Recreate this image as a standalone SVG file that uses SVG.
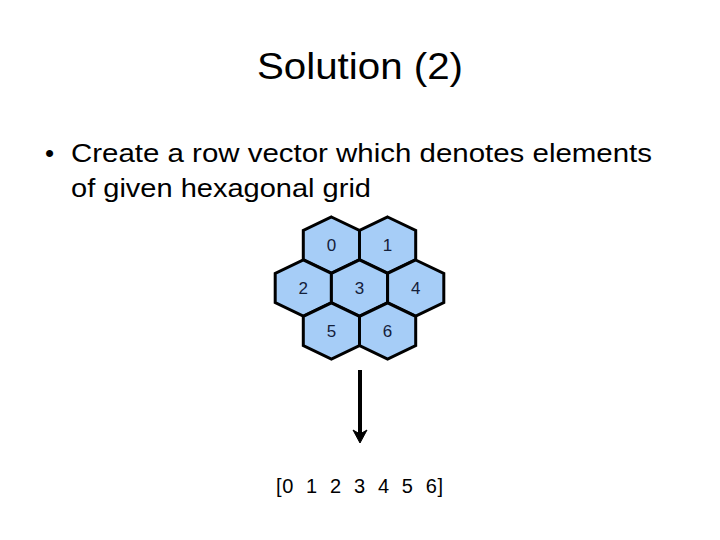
<svg xmlns="http://www.w3.org/2000/svg" width="720" height="540" viewBox="0 0 720 540">
  <style>
    .txt { font-family: "Liberation Sans", Arial, sans-serif; fill: #000; }
    .hex { fill: #a6cdf7; stroke: #000; stroke-width: 3; stroke-linejoin: miter; }
    .lbl { font-family: "Liberation Sans", Arial, sans-serif; font-size: 17px; fill: #14203a; text-anchor: middle; }
  </style>
  <defs>
    <polygon id="hexshape" points="0,-28 28.1,-14.5 28.1,14.5 0,28 -28.1,14.5 -28.1,-14.5"/>
  </defs>
  <rect width="720" height="540" fill="#fff"/>

  <g id="title">
    <text class="txt" x="257" y="79" font-size="37" textLength="206" lengthAdjust="spacingAndGlyphs">Solution (2)</text>
  </g>

  <g id="bullet">
    <text class="txt" x="45" y="162" font-size="26">•</text>
    <text class="txt" x="71" y="162" font-size="26" textLength="581" lengthAdjust="spacingAndGlyphs">Create a row vector which denotes elements</text>
    <text class="txt" x="71" y="197" font-size="26" textLength="300" lengthAdjust="spacingAndGlyphs">of given hexagonal grid</text>
  </g>

  <g id="hex0"><use href="#hexshape" class="hex" x="331.4" y="245"/><text class="lbl" x="331.4" y="251">0</text></g>
  <g id="hex1"><use href="#hexshape" class="hex" x="387.6" y="245"/><text class="lbl" x="387.6" y="251">1</text></g>
  <g id="hex2"><use href="#hexshape" class="hex" x="303.3" y="288"/><text class="lbl" x="303.3" y="294">2</text></g>
  <g id="hex3"><use href="#hexshape" class="hex" x="359.5" y="288"/><text class="lbl" x="359.5" y="294">3</text></g>
  <g id="hex4"><use href="#hexshape" class="hex" x="415.7" y="288"/><text class="lbl" x="415.7" y="294">4</text></g>
  <g id="hex5"><use href="#hexshape" class="hex" x="331.4" y="331"/><text class="lbl" x="331.4" y="337">5</text></g>
  <g id="hex6"><use href="#hexshape" class="hex" x="387.6" y="331"/><text class="lbl" x="387.6" y="337">6</text></g>

  <g id="connectors">
    <line x1="360" y1="370" x2="360" y2="434" stroke="#000" stroke-width="4"/>
    <polygon points="353,430 360,443 367,430 360,434" fill="#000" stroke="#000" stroke-width="1"/>
  </g>

  <g id="vector">
    <text class="txt" x="276" y="493" font-size="20" textLength="167" lengthAdjust="spacing" xml:space="preserve">[0  1  2  3  4  5  6]</text>
  </g>
</svg>
